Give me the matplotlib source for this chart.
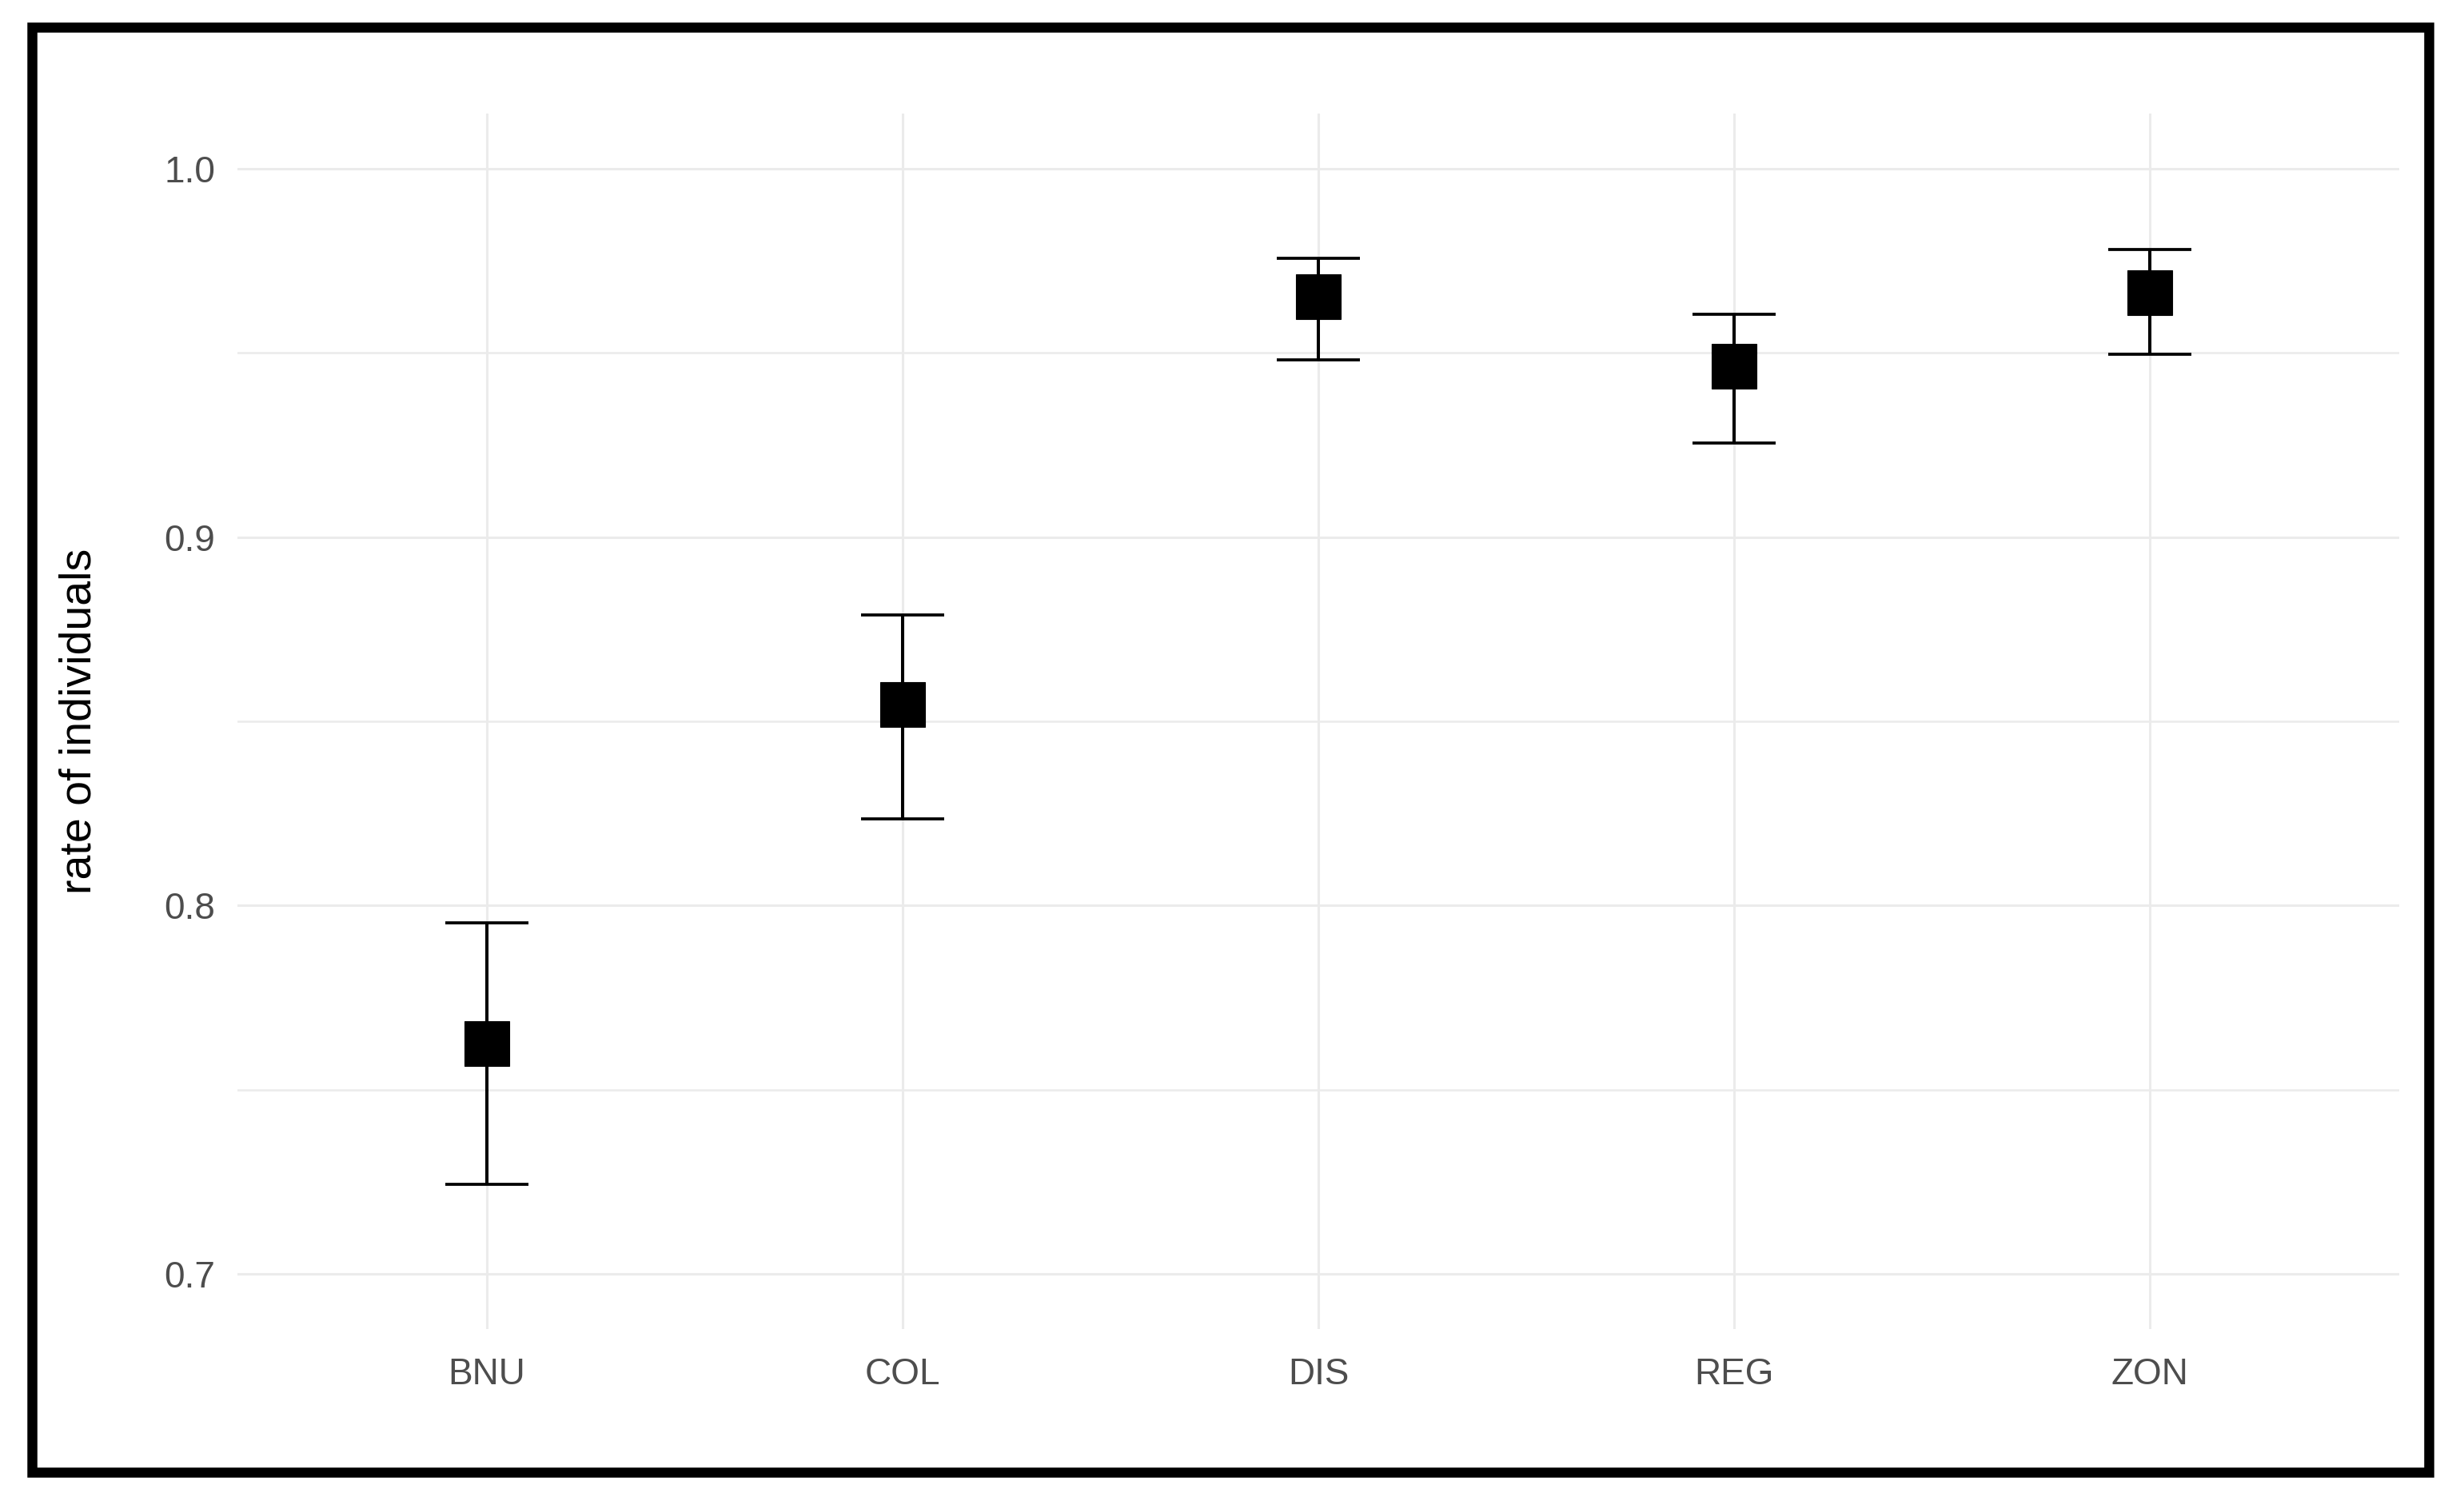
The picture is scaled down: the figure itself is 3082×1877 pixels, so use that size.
import matplotlib
matplotlib.use("Agg")
import matplotlib.pyplot as plt
from matplotlib.patches import Rectangle
import numpy as np

plt.rcParams['font.family'] = ['Liberation Sans', 'DejaVu Sans']

# values
categories = ['BNU', 'COL', 'DIS', 'REG', 'ZON']
rate = [0.7626, 0.8545, 0.9652, 0.9464, 0.9664]
lower = [0.7242, 0.8236, 0.9481, 0.9255, 0.9497]
upper = [0.7953, 0.8788, 0.9757, 0.9606, 0.9781]

W, H = 3082, 1877
fig = plt.figure(figsize=(W / 200, H / 200), dpi=200)
fig.patch.set_facecolor('white')

# panel position in pixels
left, right, top, bottom = 297, 3001, 142, 1662
ax = fig.add_axes([left / W, 1 - bottom / H, (right - left) / W, (bottom - top) / H])

x = np.arange(len(categories))
rate = np.array(rate)
yerr = [rate - np.array(lower), np.array(upper) - rate]

ax.errorbar(x, rate, yerr=yerr, fmt='none', ecolor='black', elinewidth=1.45,
            capsize=18.7, capthick=1.35, zorder=3)
ax.plot(x, rate, 's', color='black', markersize=20, markeredgewidth=0.4, zorder=4)

ax.set_xlim(-0.6, len(categories) - 0.4)
ax.set_ylim(0.685, 1.015)
ax.set_xticks(x)
ax.set_xticklabels(categories)
ax.set_yticks([0.7, 0.8, 0.9, 1.0])
ax.set_yticks([0.75, 0.85, 0.95], minor=True)
ax.yaxis.set_major_formatter(matplotlib.ticker.FormatStrFormatter('%.1f'))

ax.grid(True, which='major', color='#EBEBEB', linewidth=1.1)
ax.grid(True, which='minor', axis='y', color='#EBEBEB', linewidth=0.9)
ax.set_axisbelow(True)
for s in ax.spines.values():
    s.set_visible(False)

ax.tick_params(axis='both', which='both', length=0, labelsize=16.5, labelcolor='#4D4D4D')
ax.tick_params(axis='y', pad=10)
ax.tick_params(axis='x', pad=12.5)

ax.set_ylabel('rate of individuals', fontsize=20, color='black')
ax.yaxis.set_label_coords((100 - left) / (right - left), 0.5)
ax.yaxis.label.set_va('center')

# black frame around the whole picture
bw = 12.5
fig.patches.append(Rectangle(((34 + bw / 2) / W, 1 - (1847 - bw / 2) / H),
                             (3044 - 34 - bw) / W, (1847 - 28 - bw) / H,
                             transform=fig.transFigure, fill=False,
                             edgecolor='black', linewidth=bw * 72 / 200,
                             joinstyle='miter', zorder=10))

fig.savefig('out.png', dpi=200, facecolor='white')
